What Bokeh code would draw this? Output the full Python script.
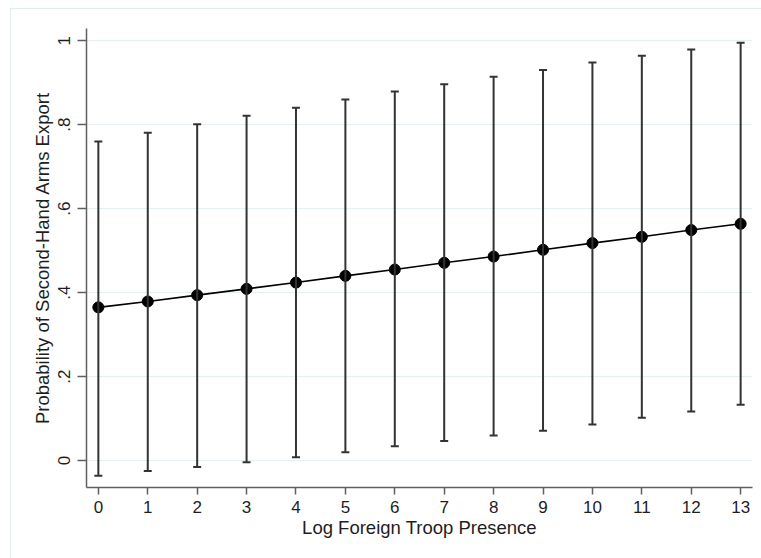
from bokeh.plotting import figure
from bokeh.models import (ColumnDataSource, Whisker, TeeHead, Range1d, FixedTicker,
                          CustomJSTickFormatter)
from bokeh.layouts import column
from bokeh.embed import file_html
from bokeh.resources import INLINE

# ---- data ----
troops = list(range(14))
prob = [0.365, 0.379, 0.394, 0.409, 0.424, 0.440, 0.455, 0.471, 0.486, 0.502, 0.518, 0.533, 0.549, 0.564]
upper_ci = [0.760, 0.781, 0.801, 0.821, 0.840, 0.860, 0.879, 0.896, 0.914, 0.930, 0.948, 0.964, 0.979, 0.995]
lower_ci = [-0.036, -0.025, -0.015, -0.004, 0.008, 0.020, 0.034, 0.047, 0.060, 0.071, 0.086, 0.102, 0.117, 0.133]
y_ticks = [0, 0.2, 0.4, 0.6, 0.8, 1]
y_tick_labels = ["0", ".2", ".4", ".6", ".8", "1"]
x_title = "Log Foreign Troop Presence"
y_title = "Probability of Second-Hand Arms Export"

src = ColumnDataSource(dict(x=troops, y=prob, upper=upper_ci, lower=lower_ci))

FONT = "Liberation Sans"
AX = "#5f5f5f"

p = figure(width=750, height=549, output_backend="svg", toolbar_location=None,
           x_range=Range1d(-0.24, 13.24), y_range=Range1d(-0.064, 1.029),
           min_border_left=75, min_border_right=9, min_border_top=19, min_border_bottom=71)
p.outline_line_color = None
p.background_fill_color = "white"
p.border_fill_color = "white"

# grid
p.xgrid.visible = False
p.ygrid.grid_line_color = "#e6eff1"
p.ygrid.grid_line_width = 1.2

# axes
for ax in (p.xaxis[0], p.yaxis[0]):
    ax.axis_line_color = AX
    ax.axis_line_width = 1.5
    ax.major_tick_line_color = AX
    ax.major_tick_line_width = 1.5
    ax.major_tick_in = 0
    ax.minor_tick_line_color = None
    ax.major_label_text_font = FONT
    ax.major_label_text_font_size = "17px"
    ax.major_label_text_color = "#1e1e1e"
    ax.axis_label_text_font = FONT
    ax.axis_label_text_font_size = "18.5px"
    ax.axis_label_text_font_style = "normal"
    ax.axis_label_text_color = "#1e1e1e"

p.xaxis.ticker = FixedTicker(ticks=troops)
p.xaxis.major_tick_out = 7
p.xaxis.major_label_standoff = 6
p.xaxis.axis_label = x_title
p.xaxis.axis_label_standoff = 1

p.yaxis.ticker = FixedTicker(ticks=y_ticks)
p.yaxis.formatter = CustomJSTickFormatter(
    args=dict(tvals=y_ticks, tlabels=y_tick_labels),
    code="""
    for (let i = 0; i < tvals.length; i++) {
        if (Math.abs(tvals[i] - tick) < 1e-9) { return tlabels[i]; }
    }
    return String(tick);
    """)
p.yaxis.major_label_orientation = "vertical"
p.yaxis.major_tick_out = 9
p.yaxis.major_label_standoff = 7
p.yaxis.axis_label = y_title
p.yaxis.axis_label_standoff = 3

# error bars
EB = "#333333"
w = Whisker(base="x", upper="upper", lower="lower", source=src,
            line_color=EB, line_width=2,
            upper_head=TeeHead(size=8, line_color=EB, line_width=2),
            lower_head=TeeHead(size=8, line_color=EB, line_width=2),
            level="glyph")
p.add_layout(w)

# estimate line + markers
p.line("x", "y", source=src, line_color="black", line_width=1.6)
p.scatter("x", "y", source=src, size=11, fill_color="black", line_color="black")

root = column(p, styles={"margin-left": "10px", "margin-top": "8px",
                         "border-left": "1px solid #e3ecef",
                         "border-top": "1px solid #e3ecef"})

open("out.html", "w").write(file_html(root, INLINE))
